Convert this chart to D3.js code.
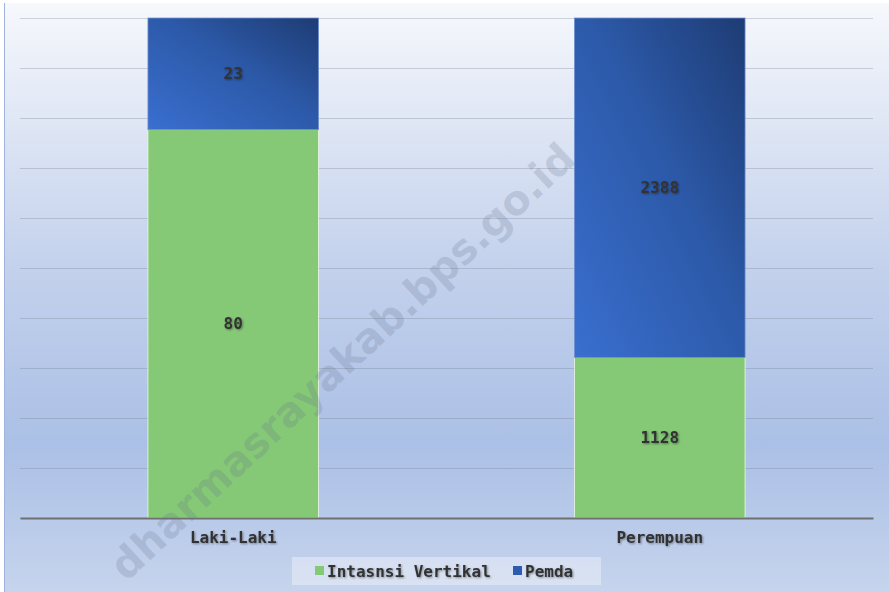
<!DOCTYPE html>
<meta charset="utf-8">
<script src="https://d3js.org/d3.v7.min.js"></script>
<style>
  body { margin: 0; background: #fff; }
  text { font-family: "DejaVu Sans Mono", monospace; font-weight: bold; }
</style>
<div id="chart"></div>
<script>
// data
var categories = ["Laki-Laki", "Perempuan"];
var seriesNames = ["Intasnsi Vertikal", "Pemda"];
var intansiVertikal = [80, 1128];
var pemda = [23, 2388];
var gridTicks = [0, 0.1, 0.2, 0.3, 0.4, 0.5, 0.6, 0.7, 0.8, 0.9, 1];

var W = 889, H = 592;
var margin = {top: 18, right: 16, bottom: 74, left: 20};
var width = W - margin.left - margin.right,
    height = H - margin.top - margin.bottom;

var svg = d3.select("#chart").append("svg")
    .attr("width", W).attr("height", H);

var defs = svg.append("defs");
var bg = defs.append("linearGradient").attr("id", "bg")
    .attr("x1", 0).attr("y1", 0).attr("x2", 0).attr("y2", 1);
bg.append("stop").attr("offset", "0%").attr("stop-color", "#f6f8fc");
bg.append("stop").attr("offset", "45%").attr("stop-color", "#c3d1ec");
bg.append("stop").attr("offset", "75%").attr("stop-color", "#abc0e6");
bg.append("stop").attr("offset", "100%").attr("stop-color", "#c6d4ed");

var blue = defs.append("linearGradient").attr("id", "blue")
    .attr("x1", 0).attr("y1", 1).attr("x2", 1).attr("y2", 0);
blue.append("stop").attr("offset", "0%").attr("stop-color", "#3a6fd0");
blue.append("stop").attr("offset", "55%").attr("stop-color", "#2c59a8");
blue.append("stop").attr("offset", "100%").attr("stop-color", "#1e3c74");

var shadow = defs.append("filter").attr("id", "shadow")
    .attr("x", "-20%").attr("y", "-40%").attr("width", "140%").attr("height", "180%");
shadow.append("feGaussianBlur").attr("in", "SourceAlpha").attr("stdDeviation", 1.2).attr("result", "b");
shadow.append("feOffset").attr("in", "b").attr("dx", 0.5).attr("dy", 0.8).attr("result", "o");
shadow.append("feComponentTransfer").attr("in", "o").attr("result", "s")
    .append("feFuncA").attr("type", "linear").attr("slope", 0.4);
var fm = shadow.append("feMerge");
fm.append("feMergeNode").attr("in", "s");
fm.append("feMergeNode").attr("in", "SourceGraphic");

// chart background
svg.append("rect")
    .attr("x", 4).attr("y", 3).attr("width", W - 4).attr("height", H - 3)
    .attr("fill", "url(#bg)");
svg.append("line")
    .attr("x1", 4.5).attr("x2", 4.5).attr("y1", 3).attr("y2", H)
    .attr("stroke", "#9fb3dc").attr("stroke-width", 1);

var g = svg.append("g")
    .attr("transform", "translate(" + margin.left + "," + margin.top + ")");

var x = d3.scaleBand()
    .domain(categories)
    .range([0, width])
    .paddingInner(0.6)
    .paddingOuter(0.3);

var y = d3.scaleLinear()
    .domain([0, 1])
    .range([height, 0]);

// gridlines
g.append("g")
    .call(d3.axisLeft(y).tickValues(gridTicks).tickSize(-width).tickFormat(""))
    .call(function (a) {
        a.select(".domain").remove();
        a.selectAll("line").attr("stroke", "#707a8c").attr("stroke-opacity", 0.3);
    });

// stacked to 100%
var rows = categories.map(function (c, i) {
    var total = intansiVertikal[i] + pemda[i];
    return {cat: c, iv: intansiVertikal[i], pm: pemda[i], total: total};
});

var bars = g.append("g").selectAll("g")
    .data(rows).enter().append("g");

bars.append("rect")
    .attr("x", function (d) { return x(d.cat); })
    .attr("y", function (d) { return y(d.iv / d.total); })
    .attr("width", x.bandwidth())
    .attr("height", function (d) { return y(0) - y(d.iv / d.total); })
    .attr("fill", "#85c977")
    .attr("stroke", "#eef5ea").attr("stroke-width", 0.8);

bars.append("rect")
    .attr("x", function (d) { return x(d.cat); })
    .attr("y", y(1))
    .attr("width", x.bandwidth())
    .attr("height", function (d) { return y(d.iv / d.total) - y(1); })
    .attr("fill", "url(#blue)")
    .attr("stroke", "#6f8fd0").attr("stroke-width", 0.8);

// watermark (over the plot, under the texts)
svg.append("text")
    .attr("transform", "translate(352,372) rotate(-43)")
    .attr("text-anchor", "middle")
    .attr("font-size", 41)
    .attr("fill", "#66728a")
    .attr("fill-opacity", 0.22)
    .style("font-family", "'DejaVu Sans', sans-serif")
    .text("dharmasrayakab.bps.go.id");

// data labels
bars.append("text")
    .attr("x", function (d) { return x(d.cat) + x.bandwidth() / 2; })
    .attr("y", function (d) { return (y(0) + y(d.iv / d.total)) / 2; })
    .attr("dy", "0.35em")
    .attr("text-anchor", "middle")
    .attr("font-size", 16)
    .attr("fill", "#333")
    .attr("filter", "url(#shadow)")
    .text(function (d) { return d.iv; });

bars.append("text")
    .attr("x", function (d) { return x(d.cat) + x.bandwidth() / 2; })
    .attr("y", function (d) { return (y(1) + y(d.iv / d.total)) / 2; })
    .attr("dy", "0.35em")
    .attr("text-anchor", "middle")
    .attr("font-size", 16)
    .attr("fill", "#333")
    .attr("filter", "url(#shadow)")
    .text(function (d) { return d.pm; });

// x axis
var xAxis = g.append("g")
    .attr("transform", "translate(0," + height + ")")
    .call(d3.axisBottom(x).tickSize(0).tickPadding(14));
xAxis.select(".domain").attr("stroke", "#707070").attr("stroke-width", 2);
xAxis.selectAll("text")
    .attr("font-size", 16)
    .attr("fill", "#333")
    .attr("filter", "url(#shadow)");

// legend
var legend = svg.append("g");
legend.append("rect")
    .attr("x", 292).attr("y", 557).attr("width", 309).attr("height", 28)
    .attr("fill", "#ffffff").attr("fill-opacity", 0.35);
var legendColors = ["#85c977", "#2d5bb0"];
var legendX = [315, 513];
var li = legend.selectAll("g.item").data(seriesNames).enter().append("g").attr("class", "item");
li.append("rect")
    .attr("x", function (d, i) { return legendX[i]; })
    .attr("y", 566).attr("width", 9).attr("height", 9)
    .attr("fill", function (d, i) { return legendColors[i]; });
li.append("text")
    .attr("x", function (d, i) { return legendX[i] + 12; })
    .attr("y", 571)
    .attr("dy", "0.35em")
    .attr("font-size", 16)
    .attr("fill", "#333")
    .attr("filter", "url(#shadow)")
    .text(function (d) { return d; });
</script>
